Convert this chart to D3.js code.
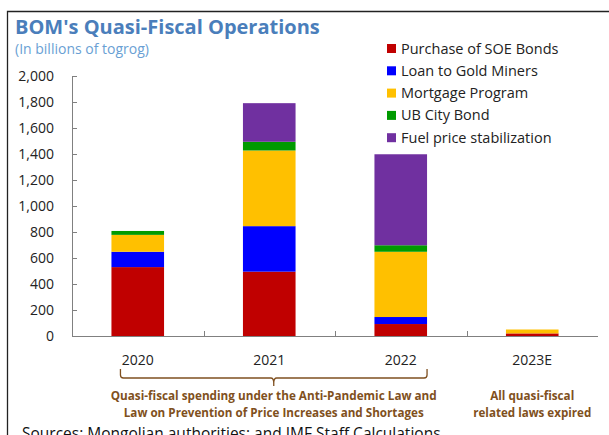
<!DOCTYPE html>
<html>
<head>
<meta charset="utf-8">
<script src="https://cdn.jsdelivr.net/npm/d3@7"></script>
<style>
  body { margin: 0; background: #fff; }
  svg { display: block; font-family: "Open Sans", sans-serif; }
</style>
</head>
<body>
<svg width="609" height="435"></svg>
<script>
// Data (billions of togrog)
const years = ["2020", "2021", "2022", "2023E"];
const seriesNames = ["Purchase of SOE Bonds", "Loan to Gold Miners", "Mortgage Program", "UB City Bond", "Fuel price stabilization"];
const soeBonds = [530, 495, 92, 20];
const goldMiners = [118, 350, 54, 0];
const mortgage = [130, 582, 502, 30];
const ubCityBond = [30, 67, 50, 0];
const fuelPrice = [0, 297, 700, 0];
const yTicks = [0, 200, 400, 600, 800, 1000, 1200, 1400, 1600, 1800, 2000];
const colors = ["#C00000", "#0000FF", "#FFC000", "#009A00", "#7030A0"];

const rows = years.map((y, i) => ({
  year: y,
  [seriesNames[0]]: soeBonds[i],
  [seriesNames[1]]: goldMiners[i],
  [seriesNames[2]]: mortgage[i],
  [seriesNames[3]]: ubCityBond[i],
  [seriesNames[4]]: fuelPrice[i]
}));

const svg = d3.select("svg");
const color = d3.scaleOrdinal(seriesNames, colors);

const x = d3.scaleBand().domain(years).range([72, 598]).paddingInner(0.6).paddingOuter(0.3);
const y = d3.scaleLinear().domain([0, 2000]).range([336, 76]);

// frame
svg.append("path")
  .attr("d", "M7.5,435V11.5H609")
  .attr("fill", "none").attr("stroke", "#222").attr("stroke-width", 1.3);

// title
svg.append("text").attr("x", 15).attr("y", 33.5)
  .attr("fill", "#4A7EBB").attr("font-weight", "bold").attr("font-size", 20)
  .text("BOM's Quasi-Fiscal Operations");
svg.append("text").attr("x", 15).attr("y", 54)
  .attr("fill", "#6A9FD4").attr("font-size", 14)
  .text("(In billions of togrog)");

// stacked bars
const stack = d3.stack().keys(seriesNames)(rows);
svg.append("g").selectAll("g")
  .data(stack).enter()
  .append("g")
    .attr("fill", d => color(d.key))
    .selectAll("rect")
    .data(d => d).enter()
    .append("rect")
      .attr("x", d => x(d.data.year))
      .attr("width", x.bandwidth())
      .attr("y", d => y(d[1]))
      .attr("height", d => y(d[0]) - y(d[1]));

// y axis
const yAxis = svg.append("g")
  .attr("transform", `translate(${x.range()[0]},0)`)
  .call(d3.axisLeft(y).tickValues(yTicks).tickFormat(d3.format(",")).tickSizeInner(-5).tickSizeOuter(0).tickPadding(18));
yAxis.select(".domain").attr("stroke", "#808080");
yAxis.selectAll(".tick line").attr("stroke", "#808080");
yAxis.selectAll(".tick text").attr("font-family", "Open Sans, sans-serif").attr("font-size", 14).attr("fill", "#222");

// x axis
svg.append("line")
  .attr("x1", x.range()[0]).attr("x2", x.range()[1])
  .attr("y1", y(0) + 0.5).attr("y2", y(0) + 0.5)
  .attr("stroke", "#808080");
const boundaries = years.slice(0, -1).map(d => x(d) + x.bandwidth() + x.step() * x.paddingInner() / 2);
svg.append("g").selectAll("line")
  .data(boundaries).enter()
  .append("line")
    .attr("x1", d => Math.round(d) + 0.5).attr("x2", d => Math.round(d) + 0.5)
    .attr("y1", y(0)).attr("y2", y(0) - 5)
    .attr("stroke", "#808080");
svg.append("g").selectAll("text")
  .data(years).enter()
  .append("text")
    .attr("x", d => x(d) + x.bandwidth() / 2)
    .attr("y", 365)
    .attr("text-anchor", "middle")
    .attr("font-size", 14).attr("fill", "#222")
    .text(d => d);

// legend
const legend = svg.append("g").selectAll("g")
  .data(seriesNames).enter()
  .append("g")
    .attr("transform", (d, i) => `translate(387,${44 + i * 22.3})`);
legend.append("rect").attr("width", 9).attr("height", 9).attr("fill", d => color(d));
legend.append("text").attr("x", 14).attr("y", 9.5)
  .attr("font-size", 14.5).attr("fill", "#222")
  .text(d => d);

// brace over 2020-2022
const brown = "#7F5020";
const bx0 = x("2020") + 9, bx1 = x("2022") + x.bandwidth(), bmid = (bx0 + bx1) / 2;
svg.append("path")
  .attr("d", `M${bx0},369 V375 Q${bx0},378 ${bx0 + 3},378 H${bmid - 3} Q${bmid},378 ${bmid},383 V386 M${bmid},383 Q${bmid},378 ${bmid + 3},378 H${bx1 - 3} Q${bx1},378 ${bx1},375 V369`)
  .attr("fill", "none").attr("stroke", brown).attr("stroke-width", 1.3);

const notes = [
  { cx: bmid, lines: ["Quasi-fiscal spending under the Anti-Pandemic Law and", "Law on Prevention of Price Increases and Shortages"], widths: [326, 300] },
  { cx: x("2023E") + x.bandwidth() / 2, lines: ["All quasi-fiscal", "related laws expired"], widths: [84, 118] }
];
notes.forEach(n => {
  svg.append("g").selectAll("text")
    .data(n.lines).enter()
    .append("text")
      .attr("x", n.cx)
      .attr("y", (d, i) => 400 + i * 17)
      .attr("text-anchor", "middle")
      .attr("font-size", 11.5).attr("font-weight", "bold").attr("fill", brown)
      .attr("textLength", (d, i) => n.widths[i])
      .attr("lengthAdjust", "spacingAndGlyphs")
      .text(d => d);
});

// source
svg.append("text").attr("x", 22).attr("y", 439)
  .attr("font-size", 15.5).attr("fill", "#111")
  .text("Sources: Mongolian authorities; and IMF Staff Calculations");
</script>
</body>
</html>
